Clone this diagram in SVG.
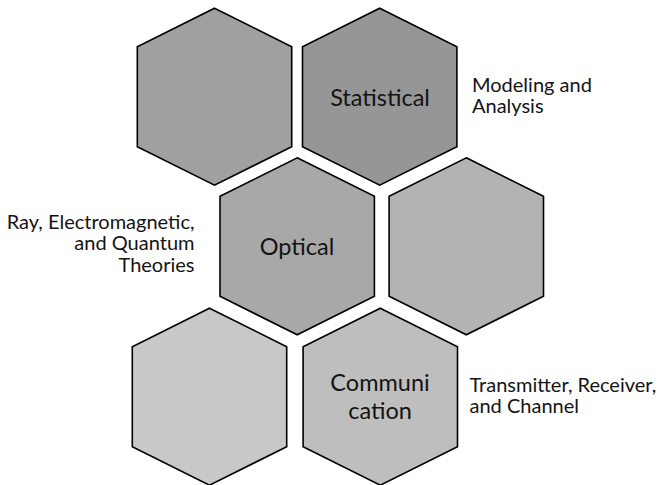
<svg xmlns="http://www.w3.org/2000/svg" xmlns:xlink="http://www.w3.org/1999/xlink" width="658" height="485" viewBox="0 0 658 485">
  <style>
    .hex { stroke: #000000; stroke-width: 1.6; stroke-linejoin: miter; }
    .title { font-family: Lato, "Open Sans", "Liberation Sans", sans-serif; font-size: 23.5px; fill: #141414; text-anchor: middle; }
    .note { font-family: Lato, "Open Sans", "Liberation Sans", sans-serif; font-size: 20px; fill: #141414; }
  </style>
  <defs>
    <!-- pointy-top hexagon centred on the origin -->
    <polygon id="hexShape" points="0,-88.5 77.2,-50 77.2,50 0,88.5 -77.2,50 -77.2,-50"/>
  </defs>
  <rect width="658" height="485" fill="#ffffff"/>

  <g id="hex-top-left">
    <use xlink:href="#hexShape" href="#hexShape" class="hex" fill="#a0a0a0" transform="translate(214.5,96.7)"/>
  </g>

  <g id="hex-statistical">
    <use xlink:href="#hexShape" href="#hexShape" class="hex" fill="#969696" transform="translate(379.7,96.7)"/>
    <text class="title" x="380" y="106">Statistical</text>
  </g>

  <g id="hex-optical">
    <use xlink:href="#hexShape" href="#hexShape" class="hex" fill="#a8a8a8" transform="translate(297.2,246.3)"/>
    <text class="title" x="297" y="255">Optical</text>
  </g>

  <g id="hex-middle-right">
    <use xlink:href="#hexShape" href="#hexShape" class="hex" fill="#b3b3b3" transform="translate(466.3,246.3)"/>
  </g>

  <g id="hex-bottom-left">
    <use xlink:href="#hexShape" href="#hexShape" class="hex" fill="#c8c8c8" transform="translate(209.5,396.7)"/>
  </g>

  <g id="hex-communication">
    <use xlink:href="#hexShape" href="#hexShape" class="hex" fill="#bebebe" transform="translate(380.3,396.7)"/>
    <text class="title" x="380" y="391">Communi</text>
    <text class="title" x="380" y="418.5">cation</text>
  </g>

  <g id="label-statistical">
    <text class="note" x="472" y="91.5">Modeling and</text>
    <text class="note" x="472" y="113">Analysis</text>
  </g>

  <g id="label-optical" text-anchor="end">
    <text class="note" x="194.5" y="228.5">Ray, Electromagnetic,</text>
    <text class="note" x="194.5" y="250">and Quantum</text>
    <text class="note" x="194.5" y="271.5">Theories</text>
  </g>

  <g id="label-communication">
    <text class="note" x="469.5" y="391.5">Transmitter, Receiver,</text>
    <text class="note" x="469.5" y="413">and Channel</text>
  </g>

  <g id="connectors"/>
</svg>
